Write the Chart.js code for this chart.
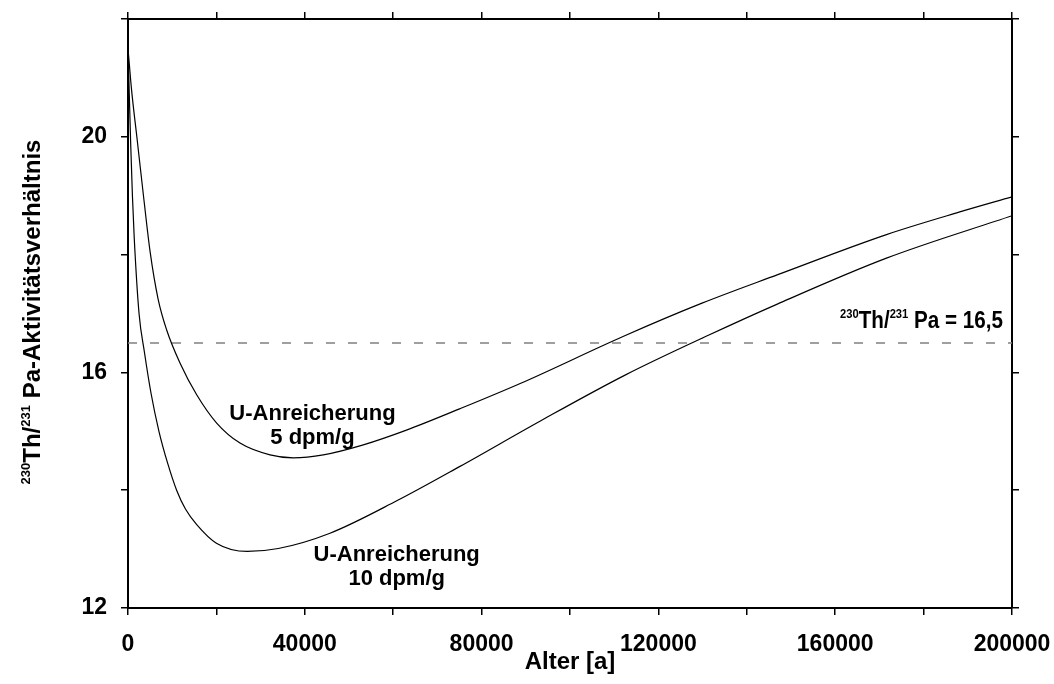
<!DOCTYPE html>
<html>
<head>
<meta charset="utf-8">
<script src="https://cdn.jsdelivr.net/npm/chart.js@4.4.0/dist/chart.umd.min.js"></script>
<style>
  html, body { margin: 0; padding: 0; background: #ffffff; }
  #wrap { width: 1054px; height: 684px; }
</style>
</head>
<body>
<div id="wrap"><canvas id="chart" width="1054" height="684"></canvas></div>
<script>
// Age in years and the 230Th/231Pa activity ratio for two uranium enrichments
const ages5   = [0, 800, 2000, 3500, 5000, 6800, 8750, 11760, 15540, 20060, 25340, 32130, 37400, 44190, 53240, 63000, 75000, 89000, 112000, 130000, 147000, 171600, 188000, 200000];
const ratio5  = [21.5, 20.8, 20.0, 19.0, 18.05, 17.25, 16.72, 16.16, 15.62, 15.14, 14.8, 14.6, 14.55, 14.6, 14.77, 15.02, 15.38, 15.82, 16.61, 17.18, 17.66, 18.34, 18.72, 18.98];

const ages10  = [0, 300, 600, 1000, 1400, 2500, 3700, 5200, 7000, 9000, 11000, 13000, 15500, 20000, 27000, 34000, 45700, 60800, 75000, 93400, 112350, 131300, 146900, 171600, 200000];
const ratio10 = [21.5, 20.7, 19.9, 19.0, 18.3, 17.0, 16.35, 15.65, 15.0, 14.45, 14.0, 13.68, 13.42, 13.1, 12.96, 13.01, 13.27, 13.82, 14.4, 15.18, 15.95, 16.63, 17.16, 17.94, 18.66];

const refLevel = 16.5;

const xLabelled = [0, 40000, 80000, 120000, 160000, 200000];
const yLabelled = [12, 16, 20];

const FONT = "'Liberation Sans', Arial, Helvetica, sans-serif";

function toPoints(xs, ys) { return xs.map((x, i) => ({ x: x, y: ys[i] })); }

// Draws a run of text pieces, some raised as superscripts; squeeze < 1 narrows the glyphs
function drawRich(ctx, segs, x, y, size, align, squeeze) {
  const k = squeeze || 1;
  const supSize = Math.round(size * 0.55);
  let total = 0;
  segs.forEach(s => {
    ctx.font = 'bold ' + (s.sup ? supSize : size) + 'px ' + FONT;
    s.w = ctx.measureText(s.t).width;
    total += s.w;
  });
  ctx.save();
  ctx.translate(x, y);
  ctx.scale(k, 1);
  let cx = align === 'right' ? -total : align === 'center' ? -total / 2 : 0;
  segs.forEach(s => {
    ctx.font = 'bold ' + (s.sup ? supSize : size) + 'px ' + FONT;
    ctx.fillText(s.t, cx, s.sup ? -size * 0.42 : 0);
    cx += s.w;
  });
  ctx.restore();
}

const textPlugin = {
  id: 'texts',
  afterDraw(chart) {
    const ctx = chart.ctx;
    const xs = chart.scales.x, ys = chart.scales.y;
    ctx.save();
    ctx.fillStyle = '#000';
    ctx.textBaseline = 'alphabetic';
    ctx.textAlign = 'left';

    // y axis title, rotated
    ctx.save();
    ctx.translate(40, 312);
    ctx.rotate(-Math.PI / 2);
    drawRich(ctx, [{ t: '230', sup: true }, { t: 'Th/' }, { t: '231', sup: true }, { t: ' Pa-Aktivitätsverhältnis' }], 0, 0, 24, 'center');
    ctx.restore();

    // curve labels
    ctx.font = 'bold 22px ' + FONT;
    ctx.textAlign = 'center';
    let px = xs.getPixelForValue(41740), py = ys.getPixelForValue(15.19);
    ctx.fillText('U-Anreicherung', px, py);
    ctx.fillText('5 dpm/g', px, py + 23.5);
    px = xs.getPixelForValue(60790); py = ys.getPixelForValue(12.79);
    ctx.fillText('U-Anreicherung', px, py);
    ctx.fillText('10 dpm/g', px, py + 23.5);

    // reference level label
    ctx.textAlign = 'left';
    drawRich(ctx, [{ t: '230', sup: true }, { t: 'Th/' }, { t: '231', sup: true }, { t: ' Pa = 16,5' }],
      xs.getPixelForValue(197960), ys.getPixelForValue(16.76), 24, 'right', 0.86);
    ctx.restore();
  }
};

const axisGrid = { drawOnChartArea: false, drawTicks: true, tickLength: 7, color: '#000', lineWidth: 1.5 };
const axisBorder = { display: true, color: '#000', width: 2 };

function noPad(s) { s.paddingLeft = 0; s.paddingRight = 0; s.paddingTop = 0; s.paddingBottom = 0; }

new Chart(document.getElementById('chart'), {
  type: 'line',
  data: {
    datasets: [
      { label: '5 dpm/g', data: toPoints(ages5, ratio5), borderColor: '#000', borderWidth: 1.2, pointRadius: 0, cubicInterpolationMode: 'monotone', fill: false },
      { label: '10 dpm/g', data: toPoints(ages10, ratio10), borderColor: '#000', borderWidth: 1.2, pointRadius: 0, cubicInterpolationMode: 'monotone', fill: false },
      { label: '16,5', data: toPoints([0, 200000], [refLevel, refLevel]), borderColor: '#808080', borderWidth: 1.5, borderDash: [9, 13], pointRadius: 0, fill: false }
    ]
  },
  options: {
    responsive: false,
    animation: false,
    devicePixelRatio: 1,
    layout: { padding: 0 },
    plugins: { legend: { display: false }, tooltip: { enabled: false }, title: { display: false } },
    scales: {
      x: {
        type: 'linear', position: 'bottom', min: 0, max: 200000,
        grid: axisGrid, border: axisBorder,
        ticks: {
          stepSize: 20000, autoSkip: false, maxRotation: 0, padding: 16, color: '#000',
          font: { family: FONT, size: 23, weight: 'bold' },
          callback: v => xLabelled.includes(v) ? String(v) : ''
        },
        title: { display: true, text: 'Alter [a]', color: '#000', font: { family: FONT, size: 24, weight: 'bold' }, padding: { top: 0, bottom: 7 } },
        afterFit: s => { s.height = 76; noPad(s); }
      },
      xTop: {
        type: 'linear', position: 'top', min: 0, max: 200000,
        grid: axisGrid, border: axisBorder,
        ticks: { stepSize: 20000, autoSkip: false, maxRotation: 0, callback: () => '' },
        afterFit: s => { s.height = 19; noPad(s); }
      },
      y: {
        type: 'linear', position: 'left', min: 12, max: 22,
        grid: axisGrid, border: axisBorder,
        ticks: {
          stepSize: 2, autoSkip: false, padding: 14, color: '#000',
          font: { family: FONT, size: 23, weight: 'bold' },
          callback: v => yLabelled.includes(v) ? String(v) : ''
        },
        afterFit: s => { s.width = 128; noPad(s); }
      },
      yRight: {
        type: 'linear', position: 'right', min: 12, max: 22,
        grid: axisGrid, border: axisBorder,
        ticks: { stepSize: 2, autoSkip: false, callback: () => '' },
        afterFit: s => { s.width = 42; noPad(s); }
      }
    }
  },
  plugins: [textPlugin]
});
</script>
</body>
</html>
